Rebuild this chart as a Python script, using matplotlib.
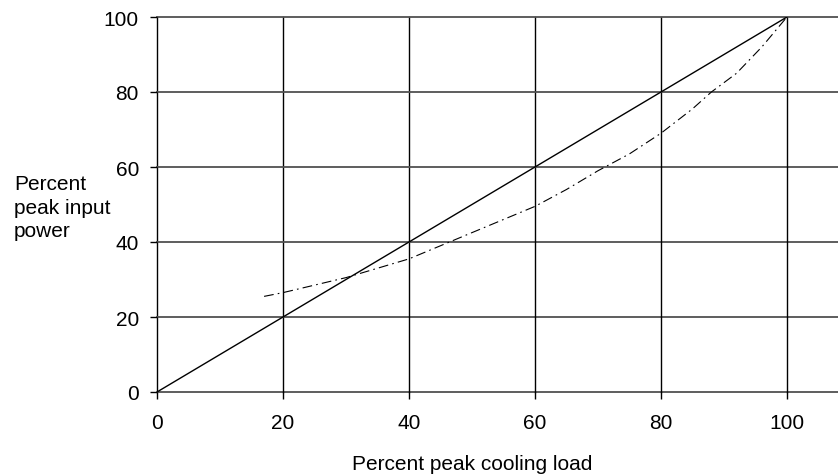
import matplotlib.pyplot as plt
import numpy as np

plt.rcParams['font.family'] = ['Liberation Sans', 'DejaVu Sans']
plt.rcParams['lines.scale_dashes'] = False

# ideal (proportional) line
ideal_x = [0, 100]
ideal_y = [0, 100]

load = [17, 20, 25, 30, 35, 40, 45, 50, 55, 60, 65, 70, 75, 80, 85, 88, 92, 96, 100]
power = [25.5, 26.5, 28.5, 30.5, 33, 35.5, 39, 42.5, 46, 49.5, 54, 59, 63.5, 69, 75.5, 80, 85, 92, 100]

ticks = [0, 20, 40, 60, 80, 100]

fig = plt.figure(figsize=(8.38, 4.77), dpi=100)
ax = fig.add_axes([157/838, 84/477, 1 - 157/838, 375/477])

ax.set_xlim(0, 108.1)
ax.set_ylim(0, 100)
ax.set_xticks(ticks)
ax.set_yticks(ticks)
for s in ax.spines.values():
    s.set_visible(False)

# grid lines
for t in ticks:
    ax.axvline(t, color='black', lw=1.0, clip_on=False, zorder=1)
    ax.axhline(t, color='#505050', lw=1.3, clip_on=False, zorder=1)

ax.plot(ideal_x, ideal_y, color='black', lw=1.0, zorder=3)
ax.plot(load, power, color='black', lw=0.8, dashes=(7, 3, 1.2, 3), zorder=3)

ax.tick_params(axis='both', direction='out', length=5, width=1.0,
               color='black', labelsize=15, labelcolor='black')
ax.tick_params(axis='x', pad=10)
ax.tick_params(axis='y', pad=8)

fig.text(50 / 108.1 * (1 - 157/838) + 157/838, 1 - 465/477, 'Percent peak cooling load',
         ha='center', va='center', fontsize=15)
fig.text(14/838, 1 - 208/477, 'Percent\npeak input\npower', ha='left', va='center',
         fontsize=15, linespacing=1.3, multialignment='left')

fig.savefig('out.png', dpi=100, facecolor='white')
